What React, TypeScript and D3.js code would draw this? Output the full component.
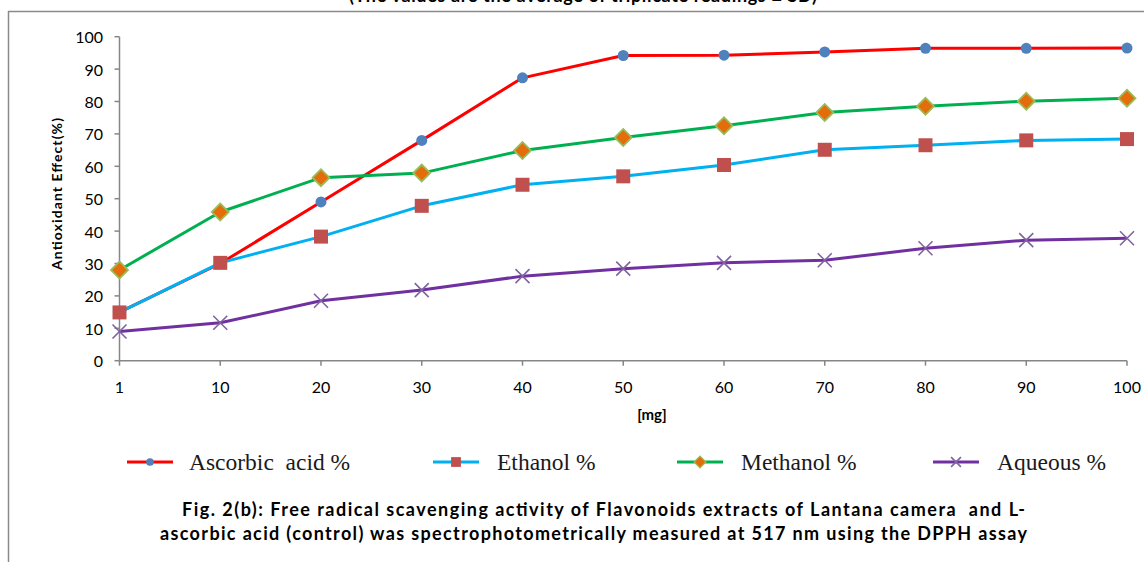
import React from 'react'
import * as d3 from 'd3'

// doses along the category axis
const doses = ['1', '10', '20', '30', '40', '50', '60', '70', '80', '90', '100']
const yTicks = [0, 10, 20, 30, 40, 50, 60, 70, 80, 90, 100]

// antioxidant effect (%)
const ascorbic = [15, 30, 49, 68, 87.3, 94.2, 94.3, 95.3, 96.4, 96.4, 96.5]
const ethanol = [14.9, 30.2, 38.3, 47.8, 54.3, 56.9, 60.4, 65.1, 66.5, 68.0, 68.4]
const methanol = [28.0, 45.9, 56.5, 57.9, 64.9, 68.9, 72.5, 76.6, 78.5, 80.1, 81.0]
const aqueous = [9.0, 11.7, 18.5, 21.8, 26.1, 28.4, 30.2, 31.0, 34.7, 37.2, 37.8]

const seriesNames = ['Ascorbic  acid %', 'Ethanol %', 'Methanol %', 'Aqueous %']

const W = 1144
const H = 562
const SANS = 'Lato, "Open Sans", sans-serif'

const series = [
    { name: seriesNames[0], values: ascorbic, line: '#FF0000', marker: 'circle', fill: '#4F81BD', stroke: 'none' },
    { name: seriesNames[1], values: ethanol, line: '#00B0F0', marker: 'square', fill: '#C0504D', stroke: 'none' },
    { name: seriesNames[2], values: methanol, line: '#00B050', marker: 'diamond', fill: '#E46C0A', stroke: '#9BBB59' },
    { name: seriesNames[3], values: aqueous, line: '#7030A0', marker: 'x', fill: 'none', stroke: '#8064A2' }
]

const Marker = ({ kind, cx, cy, fill, stroke, scale = 1 }) => {
    if (kind === 'circle') {
        return <path d={d3.symbol(d3.symbolCircle, 95 * scale * scale)()} transform={`translate(${cx},${cy})`} fill={fill} />
    }
    if (kind === 'square') {
        return <path d={d3.symbol(d3.symbolSquare, 196 * scale * scale)()} transform={`translate(${cx},${cy})`} fill={fill} />
    }
    if (kind === 'diamond') {
        return (
            <path
                d={d3.symbol(d3.symbolSquare, 144 * scale * scale)()}
                transform={`translate(${cx},${cy}) rotate(45)`}
                fill={fill}
                stroke={stroke}
                strokeWidth={1.8 * scale}
            />
        )
    }
    const h = 7 * scale
    return (
        <path
            d={`M${cx - h},${cy - h}L${cx + h},${cy + h}M${cx + h},${cy - h}L${cx - h},${cy + h}`}
            stroke={stroke}
            strokeWidth={1.6}
            fill="none"
        />
    )
}

export default function App() {
    const x = d3.scalePoint().domain(doses).range([119.5, 1127])
    const y = d3.scaleLinear().domain([0, 100]).range([360.7, 36.7])

    const line = d3
        .line<number>()
        .x((_, i) => x(doses[i]))
        .y(d => y(d))

    const legendX = [127, 433, 677, 933]

    return (
        <svg width={W} height={H} style={{ position: 'absolute', left: 0, top: 0, background: '#fff' }}>
            {/* clipped title above the frame */}
            <text x={349} y={2} fontFamily={SANS} fontWeight="bold" fontSize={18} textLength={468} fill="#000">
                (The values are the average of triplicate readings ± SD)
            </text>
            <line x1={8} x2={W} y1={11.5} y2={11.5} stroke="#8a8a8a" strokeWidth={1.5} />
            <line x1={8.5} x2={8.5} y1={11} y2={H} stroke="#8a8a8a" strokeWidth={1.5} />

            {/* axes */}
            <g stroke="#868686" strokeWidth={1.5}>
                <line x1={x('1')} x2={x('1')} y1={y(100)} y2={y(0)} />
                <line x1={x('1')} x2={x('100')} y1={y(0)} y2={y(0)} />
                {yTicks.map(t => (
                    <line key={t} x1={x('1') - 5} x2={x('1')} y1={y(t)} y2={y(t)} />
                ))}
                {doses.map(d => (
                    <line key={d} x1={x(d)} x2={x(d)} y1={y(0)} y2={y(0) + 5} />
                ))}
            </g>
            <g fontFamily={SANS} fontSize={16} fill="#000">
                {yTicks.map(t => (
                    <text key={t} x={103} y={y(t)} textAnchor="end" dominantBaseline="central">
                        {t}
                    </text>
                ))}
                {doses.map(d => (
                    <text key={d} x={x(d)} y={386} textAnchor="middle" dominantBaseline="central">
                        {d}
                    </text>
                ))}
            </g>
            <text
                transform={`translate(62,194) rotate(-90)`}
                textAnchor="middle"
                fontFamily={SANS}
                fontWeight="bold"
                fontSize={14}
                textLength={152}
            >
                Antioxidant Effect(%)
            </text>
            <text x={652} y={420} textAnchor="middle" fontFamily={SANS} fontWeight="bold" fontSize={15}>
                [mg]
            </text>

            {/* series */}
            {series.map(s => (
                <g key={s.name}>
                    <path d={line(s.values)} fill="none" stroke={s.line} strokeWidth={3} strokeLinejoin="round" />
                    {s.values.map((v, i) => (
                        <Marker key={i} kind={s.marker} cx={x(doses[i])} cy={y(v)} fill={s.fill} stroke={s.stroke} />
                    ))}
                </g>
            ))}

            {/* legend */}
            {series.map((s, i) => (
                <g key={s.name}>
                    <line x1={legendX[i]} x2={legendX[i] + 46} y1={462} y2={462} stroke={s.line} strokeWidth={3} />
                    <Marker kind={s.marker} cx={legendX[i] + 23} cy={462} fill={s.fill} stroke={s.stroke} scale={0.7} />
                    <text
                        x={legendX[i] + (i === 0 ? 62 : 64)}
                        y={469.5}
                        fontFamily='"Liberation Serif", "Times New Roman", serif'
                        fontSize={23.5}
                        fill="#1a1a1a"
                        style={{ whiteSpace: 'pre' }}
                    >
                        {s.name}
                    </text>
                </g>
            ))}

            {/* caption */}
            <g fontFamily={SANS} fontWeight="bold" fontSize={18} fill="#000">
                <text x={182} y={516} textLength={843} style={{ whiteSpace: 'pre' }}>
                    Fig. 2(b): Free radical scavenging activity of Flavonoids extracts of Lantana camera  and L-
                </text>
                <text x={160} y={540} textLength={867}>
                    ascorbic acid (control) was spectrophotometrically measured at 517 nm using the DPPH assay
                </text>
            </g>
        </svg>
    )
}
